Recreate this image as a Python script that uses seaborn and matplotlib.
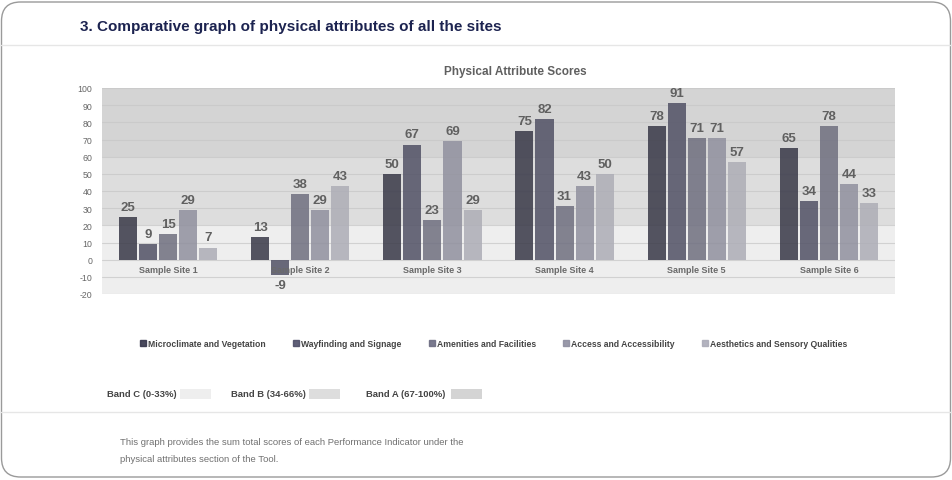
import matplotlib
matplotlib.use("Agg")
import matplotlib.pyplot as plt
import seaborn as sns
import pandas as pd
from matplotlib.patches import FancyBboxPatch, Rectangle
from matplotlib.lines import Line2D

sites = ["Sample Site 1", "Sample Site 2", "Sample Site 3", "Sample Site 4", "Sample Site 5", "Sample Site 6"]
attributes = ["Microclimate and Vegetation", "Wayfinding and Signage", "Amenities and Facilities",
              "Access and Accessibility", "Aesthetics and Sensory Qualities"]
microclimate = [25, 13, 50, 75, 78, 65]
wayfinding = [9, -9, 67, 82, 91, 34]
amenities = [15, 38, 23, 31, 71, 78]
access = [29, 29, 69, 43, 71, 44]
aesthetics = [7, 43, 29, 50, 57, 33]
series = [microclimate, wayfinding, amenities, access, aesthetics]
yticks = list(range(-20, 101, 10))
bands = [("Band C (0-33%)", -20, 20), ("Band B (34-66%)", 20, 60), ("Band A (67-100%)", 60, 100)]
band_colors = ["#eeeeee", "#dddddd", "#d4d4d4"]
bar_colors = ["#35354a", "#4e4e68", "#6c6c82", "#8e8ea0", "#ababb8"]

rows = []
for attr, vals in zip(attributes, series):
    for s, v in zip(sites, vals):
        rows.append({"site": s, "attribute": attr, "score": v})
df = pd.DataFrame(rows)

sns.set_theme(style="white")
plt.rcParams["font.family"] = ["Liberation Sans", "DejaVu Sans"]

W, H = 953, 481
fig = plt.figure(figsize=(W / 100, H / 100), dpi=100)
fig.patch.set_facecolor("white")

# frame
frame = FancyBboxPatch((1.5 / W, 3 / H), (W - 4) / W, (H - 6) / H,
                       boxstyle="round,pad=0,rounding_size=0.02", transform=fig.transFigure,
                       facecolor="none", edgecolor="#9a9a9a", linewidth=1.0, mutation_aspect=W / H)
fig.add_artist(frame)
fig.add_artist(Line2D([1.5 / W, (W - 2) / W], [1 - 46 / H] * 2, transform=fig.transFigure, color="#e6e6e6", lw=1))
fig.add_artist(Line2D([1.5 / W, (W - 2) / W], [1 - 413 / H] * 2, transform=fig.transFigure, color="#e6e6e6", lw=1))

fig.text(80 / W, 1 - 27 / H, "3. Comparative graph of physical attributes of all the sites",
         fontsize=11, fontweight="bold", color="#1c2350", va="center", ha="left")

ax = fig.add_axes([102 / W, 1 - 295 / H, (895 - 102) / W, (295 - 89) / H])
for (name, lo, hi), c in zip(bands, band_colors):
    ax.axhspan(lo, hi, color=c, zorder=0, lw=0)
for t in yticks:
    ax.axhline(t, color="#c6c6c6", lw=0.8, zorder=0.5, alpha=0.7)

sns.barplot(data=df, x="site", y="score", hue="attribute", palette=bar_colors, ax=ax,
            width=0.76, gap=0.1, alpha=0.85, zorder=2, legend=False, errorbar=None, linewidth=0)

for cont in ax.containers:
    ax.bar_label(cont, fmt="%d", padding=3, fontsize=9.5, fontweight="bold", color="#606060")

ax.set_ylim(-20, 100)
ax.set_xlim(-0.5, len(sites) - 0.5)
ax.set_yticks(yticks)
ax.set_yticklabels([str(t) for t in yticks], fontsize=6.3, color="#666666")
ax.tick_params(axis="y", length=0, pad=7)
ax.set_xticks([])
ax.set_xlabel("")
ax.set_ylabel("")
for sp in ax.spines.values():
    sp.set_visible(False)
for i, s in enumerate(sites):
    ax.text(i, -6, s, ha="center", va="center", fontsize=6.5, fontweight="bold", color="#6a6a6a", zorder=3)

fig.text(515 / W, 1 - 72 / H, "Physical Attribute Scores", ha="center", va="center",
         fontsize=8.5, fontweight="bold", color="#606060")

handles = [Line2D([], [], marker="s", linestyle="none", markersize=4, color=c, alpha=0.9) for c in bar_colors]
fig.legend(handles, attributes, loc="center", bbox_to_anchor=(493 / W, 1 - 345 / H), ncol=5,
           frameon=False, handletextpad=0.1, columnspacing=3.0, handlelength=1.0,
           prop={"weight": "bold", "size": 6.2}, labelcolor="#444444")

band_text_x = [107, 231, 366]
band_sw_x = [180, 309, 451]
for (name, lo, hi), c, tx, sx in zip(bands, band_colors, band_text_x, band_sw_x):
    fig.text(tx / W, 1 - 395 / H, name, fontsize=6.8, fontweight="bold", color="#444444", va="center")
    fig.add_artist(Rectangle((sx / W, 1 - 400 / H), 31 / W, 10 / H, transform=fig.transFigure,
                             facecolor=c, edgecolor="none"))

fig.text(120 / W, 1 - 443 / H,
         "This graph provides the sum total scores of each Performance Indicator under the",
         fontsize=6.8, color="#707070", va="center")
fig.text(120 / W, 1 - 460 / H, "physical attributes section of the Tool.",
         fontsize=6.8, color="#707070", va="center")

fig.savefig("out.png", dpi=100)
